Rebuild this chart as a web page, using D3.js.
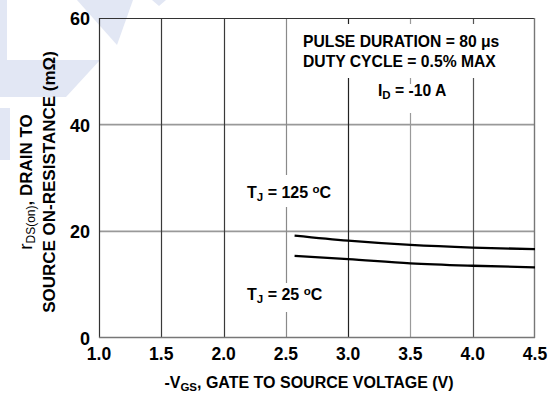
<!DOCTYPE html>
<html>
<head>
<meta charset="utf-8">
<script src="https://cdn.jsdelivr.net/npm/d3@7"></script>
<style>
  html, body { margin: 0; padding: 0; background: #fff; }
  svg { display: block; font-family: "Liberation Sans", Arial, sans-serif; }
</style>
</head>
<body>
<svg id="chart" width="554" height="394"></svg>
<script>
// ---- data ----
const xTicks = [1.0, 1.5, 2.0, 2.5, 3.0, 3.5, 4.0, 4.5];
const yTicks = [0, 20, 40, 60];
const vgs125 = [2.57, 3.0, 3.5, 4.0, 4.5];
const r125   = [19.2, 18.25, 17.45, 16.95, 16.65];
const vgs25  = [2.57, 3.0, 3.5, 4.0, 4.5];
const r25    = [15.4, 14.8, 14.0, 13.55, 13.25];

const svg = d3.select("#chart");
const m = { left: 99, right: 535, top: 18, bottom: 338 };

const x = d3.scaleLinear().domain([1.0, 4.5]).range([m.left, m.right]);
const y = d3.scaleLinear().domain([0, 60]).range([m.bottom, m.top]);

// ---- watermark ----
const wm = "#e2e7f4";
const wmPolys = [
  [[0,0],[7,0],[7,60],[100,60],[66,97],[0,97]],
  [[77,0],[133,0],[117,45]],
  [[152,0],[166,0],[159,6]],
  [[0,108],[10,108],[10,160],[0,160]]
];
svg.append("g").selectAll("polygon").data(wmPolys).join("polygon")
  .attr("points", d => d.map(p => p.join(",")).join(" "))
  .attr("fill", wm);

// ---- grid ----
const vStyle = { "1.5": "#3a3a3a", "2": "#3a3a3a", "2.5": "#8a8a8a", "3": "#222", "3.5": "#9a9a9a", "4": "#555" };
const grid = svg.append("g");
grid.selectAll("line.h").data(yTicks.filter(v => v > 0 && v < 60)).join("line")
  .attr("x1", m.left).attr("x2", m.right)
  .attr("y1", d => y(d)).attr("y2", d => y(d))
  .attr("stroke", "#999").attr("stroke-width", 1.6);
grid.selectAll("line.v").data(xTicks.filter(v => v > 1 && v < 4.5)).join("line")
  .attr("x1", d => Math.round(x(d)) + 0.5).attr("x2", d => Math.round(x(d)) + 0.5)
  .attr("y1", m.top).attr("y2", m.bottom)
  .attr("stroke", d => vStyle[String(d)] || "#555").attr("stroke-width", 1.2);

// white boxes behind annotation texts (break grid lines)
const boxes = [
  [300, 24, 205, 54],
  [372, 84, 80, 29],
  [244, 175, 90, 32],
  [244, 283, 86, 29]
];
svg.append("g").selectAll("rect").data(boxes).join("rect")
  .attr("x", d => d[0]).attr("y", d => d[1]).attr("width", d => d[2]).attr("height", d => d[3])
  .attr("fill", "#fff");

// frame
svg.append("line").attr("x1", m.left + 0.5).attr("x2", m.left + 0.5).attr("y1", m.top).attr("y2", m.bottom).attr("stroke", "#333").attr("stroke-width", 1.2);
svg.append("line").attr("x1", m.left).attr("x2", m.right).attr("y1", m.top + 0.5).attr("y2", m.top + 0.5).attr("stroke", "#333").attr("stroke-width", 1.2);
svg.append("line").attr("x1", m.right - 0.5).attr("x2", m.right - 0.5).attr("y1", m.top).attr("y2", m.bottom).attr("stroke", "#777").attr("stroke-width", 1.4);
svg.append("line").attr("x1", m.left).attr("x2", m.right).attr("y1", m.bottom - 0.5).attr("y2", m.bottom - 0.5).attr("stroke", "#777").attr("stroke-width", 1.4);

// ---- curves ----
const line = d3.line().x(d => x(d[0])).y(d => y(d[1])).curve(d3.curveMonotoneX);
[[vgs125, r125], [vgs25, r25]].forEach(([xs, ys]) => {
  svg.append("path").datum(xs.map((v, i) => [v, ys[i]]))
    .attr("d", line).attr("fill", "none").attr("stroke", "#000").attr("stroke-width", 2.3);
});

// ---- tick labels ----
svg.append("g").selectAll("text").data(xTicks).join("text")
  .attr("x", d => x(d)).attr("y", 360)
  .attr("text-anchor", "middle").attr("font-size", 17.5).attr("font-weight", "bold")
  .text(d => d.toFixed(1));
svg.append("g").selectAll("text").data(yTicks).join("text")
  .attr("x", 90).attr("y", d => y(d) + 7)
  .attr("text-anchor", "end").attr("font-size", 18).attr("font-weight", "bold")
  .text(d => d);

// ---- axis titles ----
const xt = svg.append("text").attr("x", 309).attr("y", 388).attr("text-anchor", "middle")
  .attr("font-size", 16).attr("font-weight", "bold");
xt.append("tspan").text("-V");
xt.append("tspan").attr("font-size", 11.5).attr("dy", 3).text("GS");
xt.append("tspan").attr("dy", -3).text(", GATE TO SOURCE VOLTAGE (V)");

const yt = svg.append("g").attr("transform", "translate(0,182) rotate(-90)");
const l1 = yt.append("text").attr("x", 0).attr("y", 32).attr("text-anchor", "middle")
  .attr("font-size", 17).attr("font-weight", "bold");
l1.append("tspan").attr("font-weight", "normal").attr("font-size", 19).text("r");
l1.append("tspan").attr("font-weight", "normal").attr("font-size", 12).attr("dy", 3).text("DS(on)");
l1.append("tspan").attr("dy", -3).text(",  DRAIN TO");
yt.append("text").attr("x", 0).attr("y", 55).attr("text-anchor", "middle")
  .attr("font-size", 17).attr("font-weight", "bold")
  .text("SOURCE ON-RESISTANCE (mΩ)");

// ---- annotations ----
const ann = svg.append("g").attr("font-size", 15.7).attr("font-weight", "bold");
ann.append("text").attr("x", 303).attr("y", 47).text("PULSE DURATION = 80 μs");
ann.append("text").attr("x", 303).attr("y", 67).text("DUTY CYCLE = 0.5% MAX");
const id = ann.append("text").attr("x", 378).attr("y", 96);
id.append("tspan").text("I");
id.append("tspan").attr("font-size", 11.5).attr("dy", 3).text("D");
id.append("tspan").attr("dy", -3).text(" = -10 A");

function tj(xp, yp, t) {
  const e = ann.append("text").attr("x", xp).attr("y", yp).attr("font-size", 16);
  e.append("tspan").text("T");
  e.append("tspan").attr("font-size", 11.5).attr("dy", 3).text("J");
  e.append("tspan").attr("dy", -3).text(" = " + t + " ");
  e.append("tspan").attr("font-size", 11.5).attr("dy", -5).text("o");
  e.append("tspan").attr("dy", 5).text("C");
}
tj(247, 198, "125");
tj(247, 300, "25");
</script>
</body>
</html>
